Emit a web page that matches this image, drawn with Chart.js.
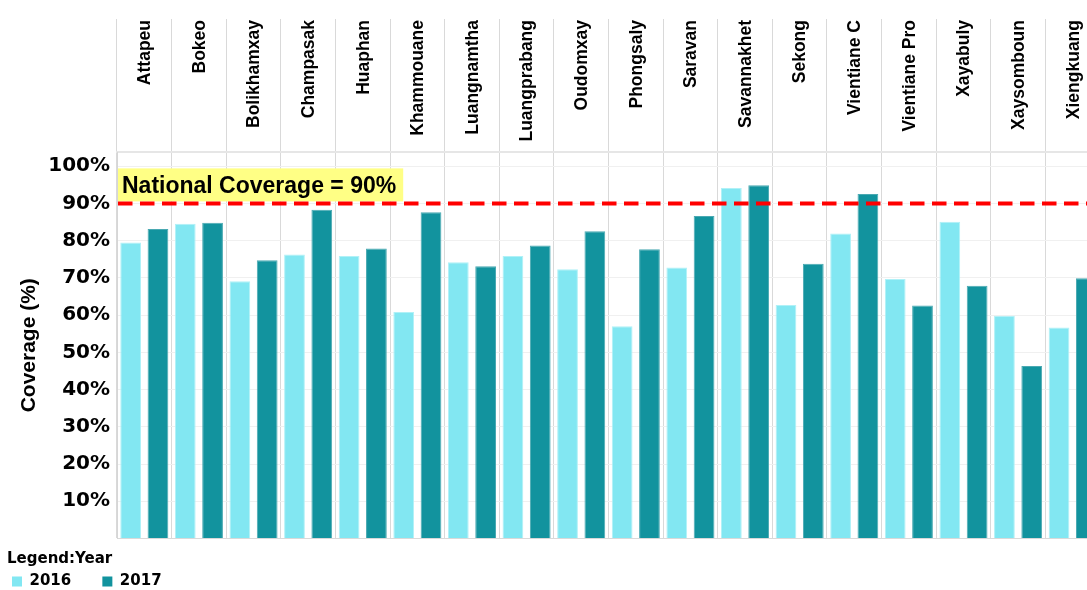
<!DOCTYPE html>
<html>
<head>
<meta charset="utf-8">
<script src="https://cdn.jsdelivr.net/npm/chart.js@4.4.0/dist/chart.umd.min.js"></script>
<style>
    html, body { margin: 0; padding: 0; background: #fff; overflow: hidden; }
    .frame { width: 1087px; height: 590px; overflow: hidden; }
    .box { width: 1102px; height: 599px; position: relative; }
</style>
</head>
<body>
<div class="frame"><div class="box"><canvas id="myChart"></canvas></div></div>
<script>
const provinces = ['Attapeu', 'Bokeo', 'Bolikhamxay', 'Champasak', 'Huaphan', 'Khammouane',
    'Luangnamtha', 'Luangprabang', 'Oudomxay', 'Phongsaly', 'Saravan', 'Savannakhet',
    'Sekong', 'Vientiane C', 'Vientiane Pro', 'Xayabuly', 'Xaysomboun', 'Xiengkuang'];
const coverage2016 = [79.5, 84.5, 69.1, 76.3, 75.9, 60.8, 74.2, 75.9, 72.3, 57.0, 72.8, 94.1,
    62.7, 81.9, 69.7, 85.1, 59.8, 56.7];
const coverage2017 = [83.1, 84.8, 74.7, 88.3, 77.9, 87.6, 73.1, 78.7, 82.5, 77.7, 86.6, 94.9,
    73.8, 92.5, 62.6, 67.9, 46.3, 69.9];
const years = ['2016', '2017'];
const nationalCoverage = 90;

const tickFont = { family: "'DejaVu Sans'", weight: 'bold', size: 20 };
const legendFont = { family: "'DejaVu Sans'", weight: 'bold', size: 15, lineHeight: 1 };

// province names at the top, rotated, hanging from the top edge
const headerLabels = {
    id: 'headerLabels',
    afterDraw(chart) {
        const scale = chart.scales.x2;
        const ctx = chart.ctx;
        ctx.save();
        ctx.font = "bold 17.5px 'Liberation Sans'";
        ctx.fillStyle = '#000';
        ctx.textAlign = 'right';
        ctx.textBaseline = 'middle';
        provinces.forEach((name, i) => {
            const x = scale.getPixelForValue(i);
            ctx.save();
            ctx.translate(x + 1, scale.top + 1);
            ctx.rotate(-Math.PI / 2);
            ctx.fillText(name, 0, 0);
            ctx.restore();
        });
        ctx.restore();
    }
};

// national coverage reference line + yellow label
const nationalLine = {
    id: 'nationalLine',
    afterDatasetsDraw(chart) {
        const { ctx, chartArea, scales: { y } } = chart;
        const yPos = y.getPixelForValue(nationalCoverage);
        const label = `National Coverage = ${nationalCoverage}%`;
        ctx.save();
        ctx.font = "bold 23px 'Liberation Sans'";
        const w = ctx.measureText(label).width;
        ctx.fillStyle = '#ffff85';
        ctx.fillRect(chartArea.left + 1, yPos - 35, w + 11, 33);
        ctx.fillStyle = '#000';
        ctx.textBaseline = 'middle';
        ctx.fillText(label, chartArea.left + 5, yPos - 17);

        ctx.strokeStyle = '#ff0000';
        ctx.lineWidth = 4;
        ctx.setLineDash([14.5, 7.5]);
        ctx.beginPath();
        ctx.moveTo(chartArea.left + 1, yPos);
        ctx.lineTo(chartArea.right, yPos);
        ctx.stroke();
        ctx.restore();
    }
};

const ctx = document.getElementById('myChart').getContext('2d');
const chart = new Chart(ctx, {
    type: 'bar',
    data: {
        labels: provinces,
        datasets: [{
            label: years[0],
            data: coverage2016,
            backgroundColor: '#82e7f2',
            borderColor: '#b0f1f7',
            borderWidth: 1,
            barPercentage: 0.76,
            categoryPercentage: 1.0
        }, {
            label: years[1],
            data: coverage2017,
            backgroundColor: '#12939e',
            borderColor: '#4aa9b2',
            borderWidth: 1,
            barPercentage: 0.76,
            categoryPercentage: 1.0
        }]
    },
    options: {
        responsive: true,
        maintainAspectRatio: false,
        animation: false,
        events: [],
        layout: { padding: { left: 7, top: 19, right: 2, bottom: 0 } },
        scales: {
            x: {
                offset: true,
                grid: { offset: true, color: '#d9d9d9', drawTicks: false },
                ticks: { display: false },
                border: { color: '#d9d9d9' }
            },
            x2: {
                type: 'category',
                position: 'top',
                labels: provinces,
                offset: true,
                grid: { offset: true, color: '#d9d9d9', drawOnChartArea: false, tickLength: 133 },
                ticks: { display: false },
                border: { color: '#e6e6e6', width: 2 },
                afterFit: (s) => { s.height = 133; }
            },
            y: {
                min: 0,
                max: 103.8,
                ticks: {
                    stepSize: 10,
                    includeBounds: false,
                    padding: 7,
                    color: '#000',
                    font: tickFont,
                    callback: (v) => (v > 0 && v <= 100) ? v + '%' : ''
                },
                grid: { color: '#f0f0f0', drawTicks: false },
                border: { color: '#d6d6d6' },
                title: {
                    display: true,
                    text: 'Coverage (%)',
                    color: '#000',
                    font: { family: "'Liberation Sans'", weight: 'bold', size: 21 },
                    padding: { top: 10, bottom: 0 }
                },
                afterFit: (s) => { s.width = 110; }
            }
        },
        plugins: {
            tooltip: { enabled: false },
            legend: {
                position: 'bottom',
                align: 'start',
                title: {
                    display: true,
                    text: 'Legend:Year',
                    position: 'start',
                    color: '#000',
                    font: legendFont,
                    padding: { top: 13.5, bottom: 2 }
                },
                labels: {
                    boxWidth: 10,
                    boxHeight: 10,
                    padding: 5,
                    color: '#000',
                    font: legendFont,
                    generateLabels: (c) => {
                        const items = Chart.defaults.plugins.legend.labels.generateLabels(c);
                        items.forEach((item, i) => {
                            item.lineWidth = 0;
                            if (i === 0) item.text = item.text + '\u00a0\u00a0\u00a0\u00a0\u00a0';
                        });
                        return items;
                    }
                }
            }
        }
    },
    plugins: [headerLabels, nationalLine]
});
</script>
</body>
</html>
